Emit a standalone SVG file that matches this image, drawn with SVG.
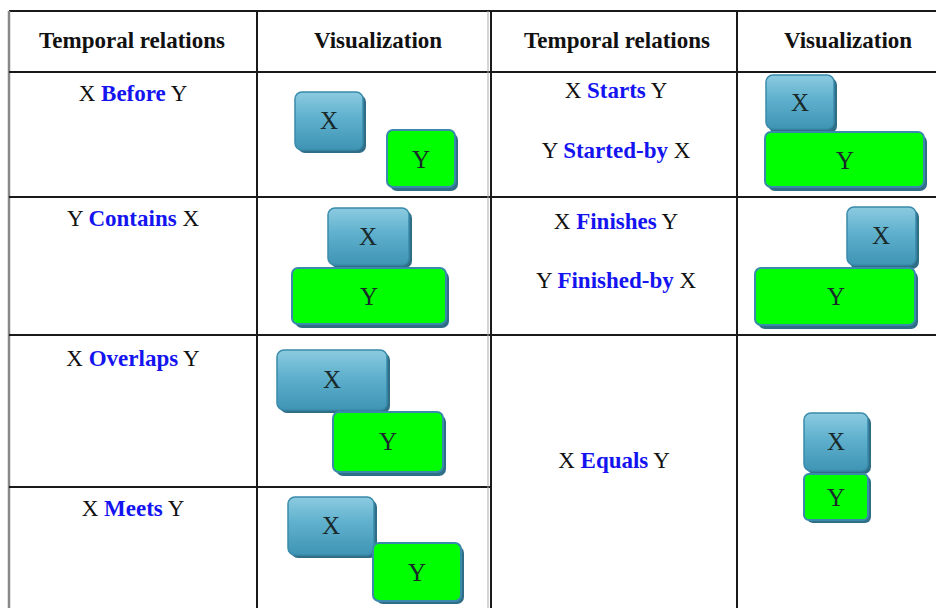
<svg xmlns="http://www.w3.org/2000/svg" width="936" height="608" viewBox="0 0 936 608">
<defs>
<linearGradient id="gx" x1="0" y1="0" x2="0" y2="1">
<stop offset="0" stop-color="#8ccbe0"/>
<stop offset="0.45" stop-color="#5eb0cd"/>
<stop offset="1" stop-color="#3f94b4"/>
</linearGradient>
<style>
.grid{stroke:#1a1a1a;stroke-width:2;fill:none}
.hd{font-family:"Liberation Serif",serif;font-weight:bold;font-size:23px;fill:#111;text-anchor:middle}
.rel{font-family:"Liberation Serif",serif;font-size:23px;fill:#111;text-anchor:middle}
.kw{font-weight:bold;fill:#1414f0}
.sh{fill:#2f6e86}
.bx{fill:url(#gx);stroke:#3a8bab;stroke-width:1.5}
.by{fill:#00ff00;stroke:#3a8bab;stroke-width:2}
.lb{font-family:"Liberation Serif",serif;font-size:25px;fill:#1a2a2a;text-anchor:middle}
</style>
</defs>
<rect width="936" height="608" fill="#fff"/>
<g id="table">
<line class="grid" x1="9" y1="11" x2="936" y2="11"/>
<line x1="9" y1="11" x2="9" y2="608" stroke="#888" stroke-width="2.5"/>
<line class="grid" x1="9" y1="72" x2="936" y2="72"/>
<line class="grid" x1="9" y1="197" x2="936" y2="197"/>
<line class="grid" x1="9" y1="335" x2="936" y2="335"/>
<line class="grid" x1="9" y1="487" x2="490" y2="487"/>
<line class="grid" x1="257" y1="11" x2="257" y2="608"/>
<line x1="488" y1="11" x2="488" y2="608" stroke="#aaa" stroke-width="1"/>
<line class="grid" x1="491" y1="11" x2="491" y2="608"/>
<line class="grid" x1="737" y1="11" x2="737" y2="608"/>
</g>
<g id="headers">
<text class="hd" x="132" y="48">Temporal relations</text>
<text class="hd" x="378" y="48">Visualization</text>
<text class="hd" x="617" y="48">Temporal relations</text>
<text class="hd" x="848" y="48">Visualization</text>
</g>
<g id="relations">
<text class="rel" x="133" y="101">X <tspan class="kw">Before</tspan> Y</text>
<text class="rel" x="133" y="226">Y <tspan class="kw">Contains</tspan> X</text>
<text class="rel" x="133" y="366">X <tspan class="kw">Overlaps</tspan> Y</text>
<text class="rel" x="133" y="516">X <tspan class="kw">Meets</tspan> Y</text>
<text class="rel" x="616" y="98">X <tspan class="kw">Starts</tspan> Y</text>
<text class="rel" x="616" y="158">Y <tspan class="kw">Started-by</tspan> X</text>
<text class="rel" x="616" y="229">X <tspan class="kw">Finishes</tspan> Y</text>
<text class="rel" x="616" y="288">Y <tspan class="kw">Finished-by</tspan> X</text>
<text class="rel" x="614" y="468">X <tspan class="kw">Equals</tspan> Y</text>
</g>
<g id="before">
<rect class="sh" x="298" y="95" width="68" height="58" rx="7"/>
<rect class="bx" x="295" y="92" width="68" height="58" rx="7"/>
<text class="lb" x="329" y="129">X</text>
<rect class="sh" x="390" y="133" width="68" height="58" rx="7"/>
<rect class="by" x="387" y="130" width="68" height="57" rx="6"/>
<text class="lb" x="421" y="168">Y</text>
</g>
<g id="contains">
<rect class="sh" x="331" y="211" width="81" height="57" rx="7"/>
<rect class="bx" x="328" y="208" width="81" height="57" rx="7"/>
<text class="lb" x="368" y="245">X</text>
<rect class="sh" x="295" y="271" width="154" height="57" rx="7"/>
<rect class="by" x="292" y="268" width="154" height="56" rx="6"/>
<text class="lb" x="369" y="305">Y</text>
</g>
<g id="overlaps">
<rect class="sh" x="280" y="353" width="110" height="60" rx="7"/>
<rect class="bx" x="277" y="350" width="110" height="60" rx="7"/>
<text class="lb" x="332" y="388">X</text>
<rect class="sh" x="336" y="415" width="110" height="61" rx="7"/>
<rect class="by" x="333" y="412" width="110" height="60" rx="6"/>
<text class="lb" x="388" y="450">Y</text>
</g>
<g id="meets">
<rect class="sh" x="291" y="500" width="86" height="58" rx="7"/>
<rect class="bx" x="288" y="497" width="86" height="58" rx="7"/>
<text class="lb" x="331" y="534">X</text>
<rect class="sh" x="376" y="546" width="88" height="58" rx="7"/>
<rect class="by" x="373" y="543" width="88" height="58" rx="6"/>
<text class="lb" x="417" y="581">Y</text>
</g>
<g id="starts">
<rect class="sh" x="769" y="78" width="68" height="55" rx="7"/>
<rect class="bx" x="766" y="75" width="68" height="54" rx="7"/>
<text class="lb" x="800" y="111">X</text>
<rect class="sh" x="768" y="135" width="159" height="56" rx="7"/>
<rect class="by" x="765" y="132" width="159" height="55" rx="6"/>
<text class="lb" x="845" y="169">Y</text>
</g>
<g id="finishes">
<rect class="sh" x="850" y="210" width="69" height="59" rx="7"/>
<rect class="bx" x="847" y="207" width="69" height="58" rx="7"/>
<text class="lb" x="881" y="244">X</text>
<rect class="sh" x="758" y="271" width="160" height="58" rx="7"/>
<rect class="by" x="755" y="268" width="160" height="57" rx="6"/>
<text class="lb" x="836" y="305">Y</text>
</g>
<g id="equals">
<rect class="sh" x="807" y="416" width="64" height="58" rx="7"/>
<rect class="bx" x="804" y="413" width="64" height="58" rx="7"/>
<text class="lb" x="836" y="450">X</text>
<rect class="sh" x="807" y="476" width="64" height="47" rx="6"/>
<rect class="by" x="804" y="474" width="64" height="46" rx="5"/>
<text class="lb" x="836" y="506">Y</text>
</g>
</svg>
